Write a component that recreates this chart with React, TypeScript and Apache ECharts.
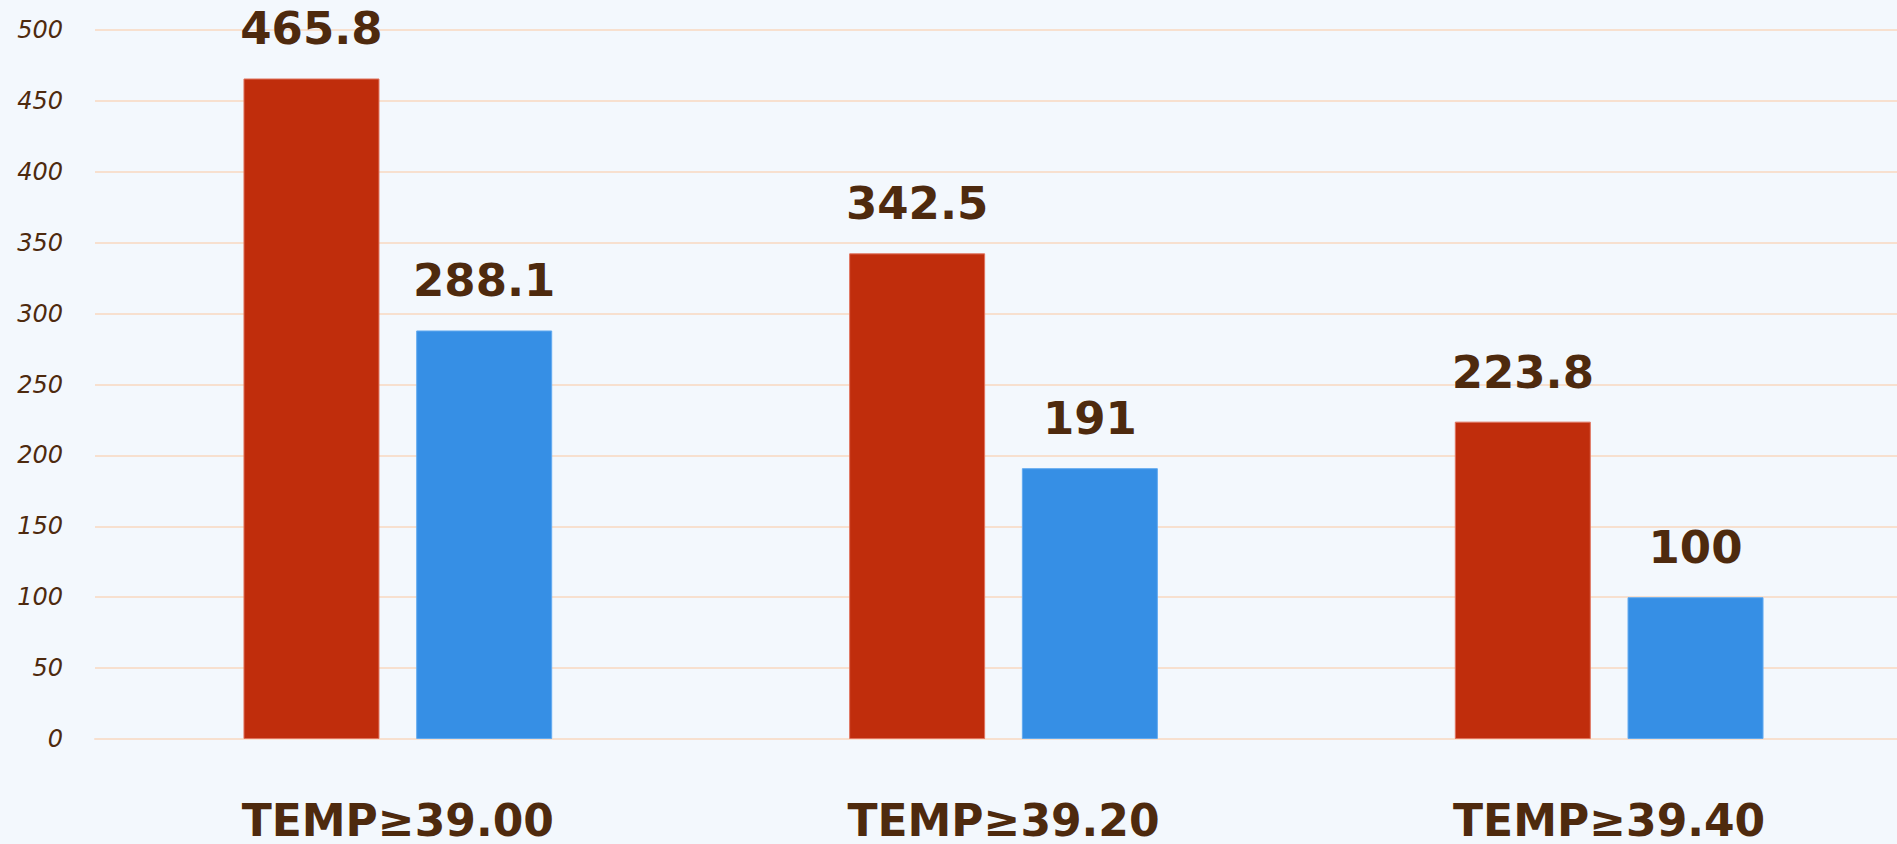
import React, { useEffect, useRef } from "react";
import * as echarts from "echarts";

const categories = ["TEMP≥39.00", "TEMP≥39.20", "TEMP≥39.40"];
const redValues = [465.8, 342.5, 223.8];
const blueValues = [288.1, 191, 100];
const yTicks = { min: 0, max: 500, interval: 50 };

const TEXT = "#4E2A0E";
const GRIDLINE = "#F7E0CF";

export default function App() {
  const ref = useRef<HTMLDivElement>(null);
  useEffect(() => {
    if (!ref.current) return;
    const chart = echarts.init(ref.current, undefined, { renderer: "svg" });
    const valueLabel = {
      show: true,
      position: "top",
      distance: 27,
      color: TEXT,
      fontFamily: "DejaVu Sans",
      fontWeight: "bold",
      fontSize: 45,
    };
    chart.setOption({
      animation: false,
      backgroundColor: "#F3F8FD",
      grid: { left: 95, top: 30, width: 1817, height: 709, containLabel: false },
      xAxis: {
        type: "category",
        data: categories,
        axisLine: { show: true, lineStyle: { color: GRIDLINE, width: 2 } },
        axisTick: { show: false },
        axisLabel: {
          color: TEXT,
          fontFamily: "DejaVu Sans",
          fontWeight: "bold",
          fontSize: 44,
          lineHeight: 38,
          margin: 62,
        },
      },
      yAxis: {
        type: "value",
        min: yTicks.min,
        max: yTicks.max,
        interval: yTicks.interval,
        axisLine: { show: false },
        axisTick: { show: false },
        splitLine: { show: true, lineStyle: { color: GRIDLINE, width: 2 } },
        axisLabel: {
          color: TEXT,
          fontFamily: "DejaVu Sans",
          fontStyle: "italic",
          fontSize: 24,
          margin: 32,
        },
      },
      series: [
        {
          name: "Series 1",
          type: "bar",
          data: redValues,
          barWidth: 136,
          barGap: "27%",
          itemStyle: { color: "#C02D0C", borderColor: "#E0735E", borderWidth: 1 },
          label: valueLabel,
        },
        {
          name: "Series 2",
          type: "bar",
          data: blueValues,
          barWidth: 136,
          barGap: "27%",
          itemStyle: { color: "#368FE5", borderColor: "#62AAF0", borderWidth: 1 },
          label: valueLabel,
        },
      ],
    });
    return () => chart.dispose();
  }, []);
  return (
    <div
      style={{
        position: "fixed",
        left: 0,
        top: 0,
        width: 1897,
        height: 844,
        overflow: "hidden",
      }}
    >
      <div ref={ref} style={{ width: 1920, height: 844 }} />
    </div>
  );
}
